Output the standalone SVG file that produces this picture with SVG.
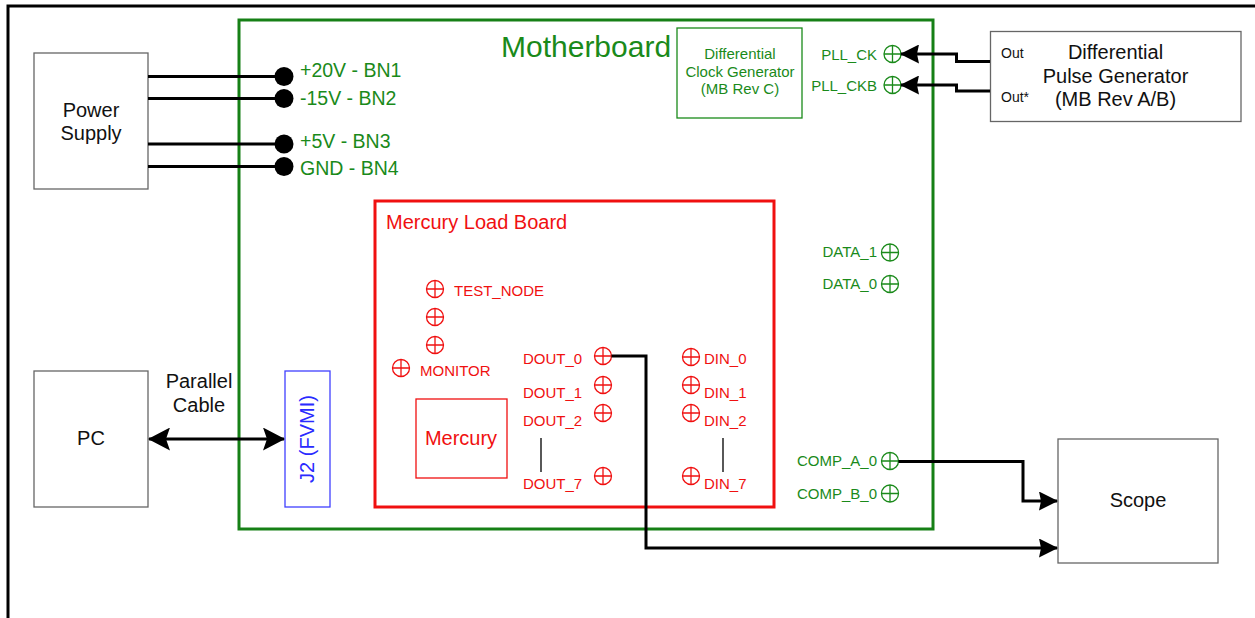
<svg xmlns="http://www.w3.org/2000/svg" xmlns:xlink="http://www.w3.org/1999/xlink" width="1255" height="618" viewBox="0 0 1255 618">
<style>
text{font-family:"Liberation Sans",Arial,sans-serif}
.box{fill:#fff;stroke:#666;stroke-width:1.3}
.blk{fill:#111}
.grn{fill:#1a8a1a}
.red{fill:#f01010}
.wire{fill:none;stroke:#000;stroke-width:3}
.tpR{color:#f01010}
.tpG{color:#1a8a1a}
</style>
<defs>
<g id="tp" fill="none" stroke="currentColor" stroke-width="1.3">
<circle r="8.5"/>
<path d="M-8.5 0H8.5M0 -8.5V8.5"/>
</g>
<marker id="ah" viewBox="0 0 19 19" refX="18" refY="9.5" markerWidth="19" markerHeight="19" markerUnits="userSpaceOnUse" orient="auto-start-reverse">
<path d="M0 0L19 9.5L0 19L2 9.5z" fill="#000"/>
</marker>
<marker id="ahL" viewBox="0 0 22 23" refX="21" refY="11.5" markerWidth="22" markerHeight="23" markerUnits="userSpaceOnUse" orient="auto-start-reverse">
<path d="M0 0L22 11.5L0 23L4 11.5z" fill="#000"/>
</marker>
</defs>
<rect width="1255" height="618" fill="#fff"/>
<path d="M8 618V6H1255" fill="none" stroke="#000" stroke-width="3"/>

<g id="motherboard">
<rect x="239" y="20" width="694" height="509" fill="none" stroke="#168016" stroke-width="3"/>
<text x="501" y="57" font-size="30" class="grn">Motherboard</text>
<text x="300" y="77" font-size="19.5" class="grn">+20V - BN1</text>
<text x="300" y="105" font-size="19.5" class="grn">-15V - BN2</text>
<text x="300" y="148" font-size="19.5" class="grn">+5V - BN3</text>
<text x="300" y="175" font-size="19.5" class="grn">GND - BN4</text>
<g text-anchor="end" font-size="15" class="grn">
<text x="877" y="59.5">PLL_CK</text>
<text x="877" y="91">PLL_CKB</text>
<text x="877" y="257">DATA_1</text>
<text x="877" y="289">DATA_0</text>
<text x="877" y="466">COMP_A_0</text>
<text x="877" y="499">COMP_B_0</text>
</g>
<g class="tpG">
<use xlink:href="#tp" x="892.5" y="54"/>
<use xlink:href="#tp" x="892.5" y="85"/>
<use xlink:href="#tp" x="890" y="252.5"/>
<use xlink:href="#tp" x="890" y="284"/>
<use xlink:href="#tp" x="890" y="461"/>
<use xlink:href="#tp" x="890" y="493.5"/>
</g>
</g>

<g id="clockgen">
<rect x="677" y="28" width="125" height="90" fill="#fff" stroke="#1a8a1a" stroke-width="1.3"/>
<g text-anchor="middle" font-size="15" class="grn">
<text x="740" y="59">Differential</text>
<text x="740" y="77">Clock Generator</text>
<text x="740" y="94">(MB Rev C)</text>
</g>
</g>

<g id="powersupply">
<rect class="box" x="34" y="53" width="114" height="136"/>
<g text-anchor="middle" font-size="20" class="blk">
<text x="91" y="117">Power</text>
<text x="91" y="140">Supply</text>
</g>
</g>

<g id="pulsegen">
<rect class="box" x="990.5" y="31.5" width="250.5" height="90"/>
<text x="1001" y="58" font-size="14" class="blk">Out</text>
<text x="1001" y="102" font-size="14" class="blk">Out*</text>
<g text-anchor="middle" font-size="20" class="blk">
<text x="1115.5" y="58.5">Differential</text>
<text x="1115.5" y="83">Pulse Generator</text>
<text x="1115.5" y="106">(MB Rev A/B)</text>
</g>
</g>

<g id="loadboard">
<rect x="375" y="201" width="399" height="306" fill="none" stroke="#f01010" stroke-width="3"/>
<text x="386" y="229" font-size="20" class="red">Mercury Load Board</text>
<g font-size="15" class="red">
<text x="454" y="296">TEST_NODE</text>
<text x="420" y="376">MONITOR</text>
<text x="523" y="364">DOUT_0</text>
<text x="523" y="398">DOUT_1</text>
<text x="523" y="426">DOUT_2</text>
<text x="523" y="489">DOUT_7</text>
<text x="704" y="364">DIN_0</text>
<text x="704" y="398">DIN_1</text>
<text x="704" y="426">DIN_2</text>
<text x="704" y="489">DIN_7</text>
</g>
<g class="tpR">
<use xlink:href="#tp" x="435" y="289"/>
<use xlink:href="#tp" x="435" y="317"/>
<use xlink:href="#tp" x="435" y="345"/>
<use xlink:href="#tp" x="401" y="368"/>
<use xlink:href="#tp" x="603" y="356"/>
<use xlink:href="#tp" x="603" y="385"/>
<use xlink:href="#tp" x="603" y="413"/>
<use xlink:href="#tp" x="603" y="476"/>
<use xlink:href="#tp" x="691" y="357"/>
<use xlink:href="#tp" x="691" y="385"/>
<use xlink:href="#tp" x="691" y="413"/>
<use xlink:href="#tp" x="691" y="476"/>
</g>
<path d="M541 438V472M723 438V472" stroke="#000" stroke-width="1.3"/>
</g>

<g id="mercury">
<rect x="416" y="399" width="91" height="79" fill="#fff" stroke="#f01010" stroke-width="1.3"/>
<text x="461" y="445" font-size="20" text-anchor="middle" class="red">Mercury</text>
</g>

<g id="pc">
<rect class="box" x="34" y="371" width="114" height="136"/>
<text x="91" y="445" font-size="20" text-anchor="middle" class="blk">PC</text>
</g>

<g id="j2">
<rect x="285" y="371" width="45" height="136" fill="#fff" stroke="#4040ff" stroke-width="1.3"/>
<text transform="translate(314 439) rotate(-90)" font-size="20" text-anchor="middle" fill="#2a2aff">J2 (FVMI)</text>
</g>

<g id="scope">
<rect class="box" x="1058" y="439" width="160" height="124"/>
<text x="1138" y="507" font-size="20" text-anchor="middle" class="blk">Scope</text>
</g>

<g id="connectors">
<path class="wire" d="M148 76.5H284M148 98.5H284M148 144H284M148 166.5H284"/>
<g fill="#000">
<circle cx="284" cy="76.5" r="9.5"/>
<circle cx="284" cy="98.5" r="9.5"/>
<circle cx="284" cy="144" r="9.5"/>
<circle cx="284" cy="166.5" r="9.5"/>
</g>
<path class="wire" d="M990 61.5H956.5V54H901" marker-end="url(#ah)"/>
<path class="wire" d="M990 91H956.5V85H901" marker-end="url(#ah)"/>
<path class="wire" d="M149 439H284" marker-start="url(#ahL)" marker-end="url(#ahL)"/>
<path class="wire" d="M611.5 356H646V548H1057" marker-end="url(#ah)"/>
<path class="wire" d="M898.5 461.5H1023V501H1057" marker-end="url(#ah)"/>
<text x="199" y="388" font-size="20" text-anchor="middle" class="blk">Parallel</text>
<text x="199" y="412" font-size="20" text-anchor="middle" class="blk">Cable</text>
</g>
</svg>
